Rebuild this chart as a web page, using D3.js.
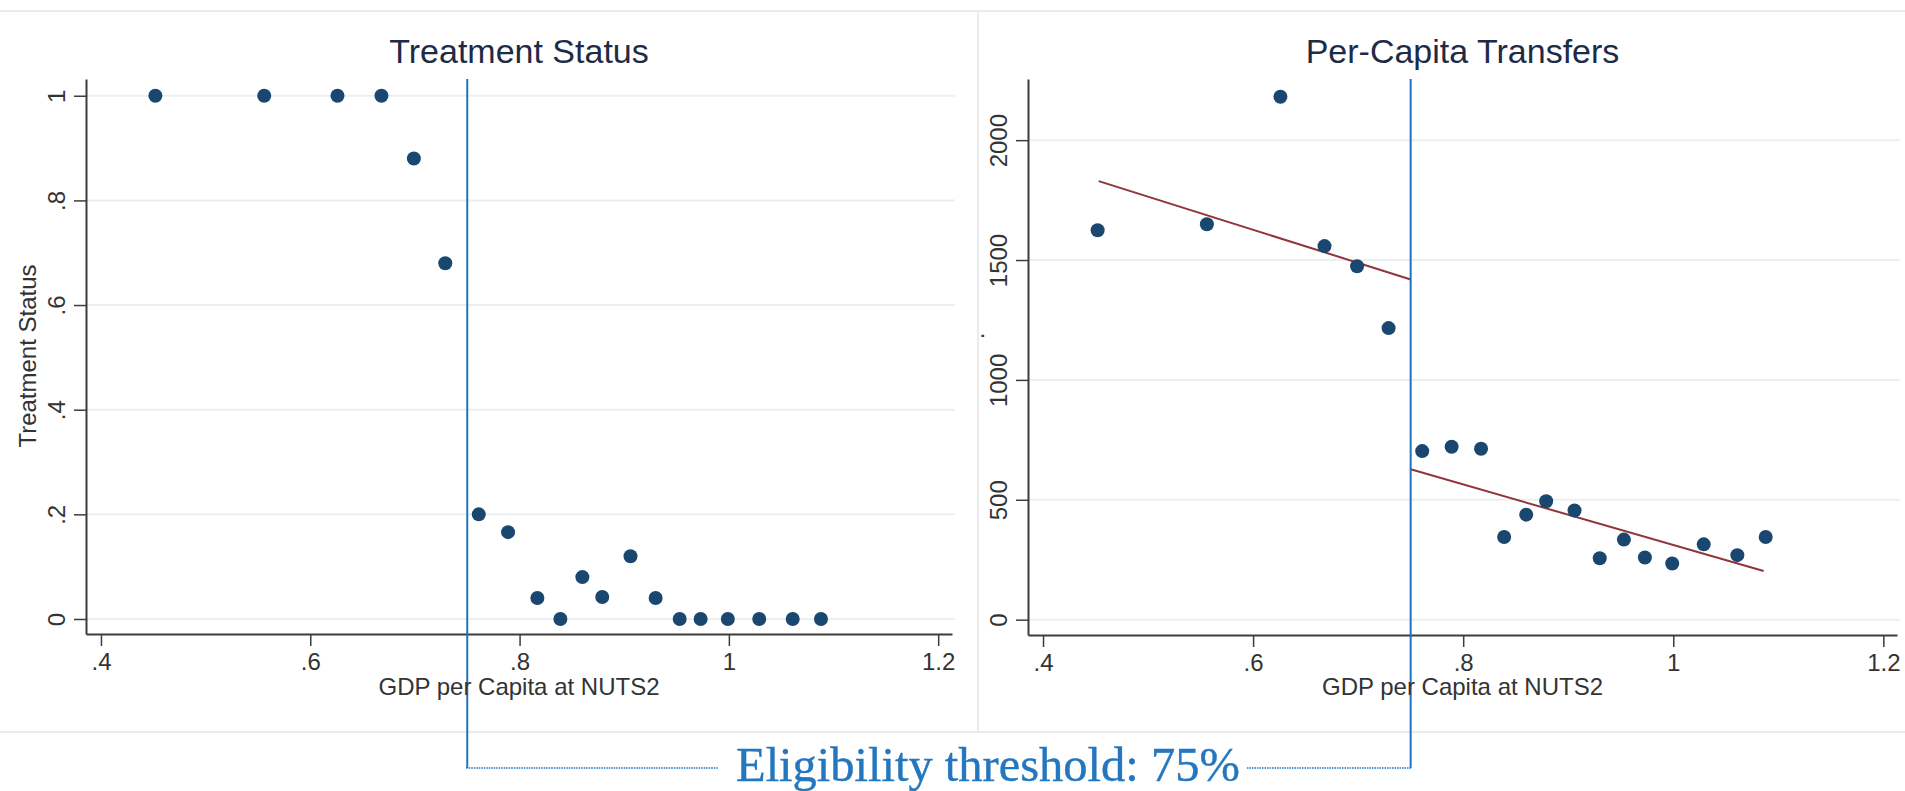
<!DOCTYPE html>
<html lang="en">
<head>
  <meta charset="UTF-8" />
  <title>Treatment Status and Per-Capita Transfers at the 75% threshold</title>
  <script src="https://cdn.jsdelivr.net/npm/d3@7"></script>
  <style>
    html, body {
      margin: 0;
      padding: 0;
      background: #ffffff;
      overflow: hidden;
    }
    svg { display: block; font-family: "Liberation Sans", Arial, sans-serif; }
    .note-text { font-family: "Liberation Serif", "Times New Roman", serif; }
  </style>
</head>
<body>
  <script>
    // ------ Data ------
    // GDP per capita bins (share of EU average), same bins for both panels
    const gdpBins = [0.452, 0.556, 0.626, 0.668, 0.699, 0.729, 0.761, 0.789, 0.817, 0.839,
                     0.860, 0.879, 0.906, 0.930, 0.953, 0.973, 0.999, 1.029, 1.061, 1.088];
    const treatStatus = [1, 1, 1, 1, 0.88, 0.68, 0.20, 0.166, 0.04, 0,
                         0.08, 0.042, 0.12, 0.04, 0, 0, 0, 0, 0, 0];
    const transfers = [1624, 1649, 2181, 1558, 1474, 1216, 703, 721, 713, 345,
                       438, 494, 455, 256, 334, 259, 234, 314, 269, 345];
    // linear fits either side of the cut-off (end points)
    const fitBelow = [[0.453, 1829], [0.75, 1419]];
    const fitAbove = [[0.75, 627], [1.086, 203]];
    const threshold = 0.75;

    const xTicks = [0.4, 0.6, 0.8, 1, 1.2];
    const xTickLabels = [".4", ".6", ".8", "1", "1.2"];
    const yTicksTreat = [0, 0.2, 0.4, 0.6, 0.8, 1];
    const yTickLabelsTreat = ["0", ".2", ".4", ".6", ".8", "1"];
    const yTicksTransfers = [0, 500, 1000, 1500, 2000];
    const yTickLabelsTransfers = ["0", "500", "1000", "1500", "2000"];

    // ------ Layout ------
    const width = 1905, height = 791;
    const dotColor = "#1a476f";
    const fitColor = "#90353b";
    const lineBlue = "#1f74bd";
    const gridColor = "#eaf0f1";
    const axisColor = "#3d3d3d";
    const connectorY = 768;

    const svg = d3.select("body").append("svg")
      .attr("width", width)
      .attr("height", height);

    svg.append("rect").attr("width", width).attr("height", height).attr("fill", "#fff");

    // faint graph-region frames (two graphs side by side)
    const frame = svg.append("g").attr("stroke", "#ebebeb").attr("stroke-width", 2);
    frame.append("line").attr("x1", 0).attr("x2", width).attr("y1", 11).attr("y2", 11);
    frame.append("line").attr("x1", 0).attr("x2", width).attr("y1", 732).attr("y2", 732);
    frame.append("line").attr("x1", 978).attr("x2", 978).attr("y1", 11).attr("y2", 732);

    function drawPanel(p) {
      const g = svg.append("g");
      const x = d3.scaleLinear().domain(p.xDomain).range([p.left, p.right]);
      const y = d3.scaleLinear().domain(p.yDomain).range([p.bottom, p.top]);

      // grid
      g.append("g").selectAll("line")
        .data(p.yTicks)
        .join("line")
        .attr("x1", p.left).attr("x2", p.right + 3)
        .attr("y1", d => y(d)).attr("y2", d => y(d))
        .attr("stroke", gridColor)
        .attr("stroke-width", 2);

      // y axis with rotated labels
      const yAxis = g.append("g")
        .attr("transform", `translate(${p.left},0)`)
        .call(d3.axisLeft(y)
          .tickValues(p.yTicks)
          .tickFormat((d, i) => p.yTickLabels[i])
          .tickSize(12)
          .tickSizeOuter(0));
      yAxis.select(".domain").attr("stroke", axisColor).attr("stroke-width", 2);
      yAxis.selectAll(".tick line").attr("stroke", axisColor).attr("stroke-width", 1.5);
      yAxis.selectAll(".tick text")
        .attr("x", 0).attr("y", -21).attr("dy", null)
        .attr("transform", "rotate(-90)")
        .attr("text-anchor", "middle")
        .attr("fill", "#333")
        .attr("font-size", 24);

      // x axis
      const xAxis = g.append("g")
        .attr("transform", `translate(0,${p.bottom})`)
        .call(d3.axisBottom(x)
          .tickValues(xTicks)
          .tickFormat((d, i) => xTickLabels[i])
          .tickSize(12)
          .tickPadding(7)
          .tickSizeOuter(0));
      xAxis.select(".domain").attr("stroke", axisColor).attr("stroke-width", 2);
      xAxis.selectAll(".tick line").attr("stroke", axisColor).attr("stroke-width", 1.5);
      xAxis.selectAll(".tick text")
        .attr("fill", "#333")
        .attr("font-size", 24);
      yAxis.attr("font-family", null);
      xAxis.attr("font-family", null);

      // fitted lines
      if (p.fits) {
        const line = d3.line().x(d => x(d[0])).y(d => y(d[1]));
        p.fits.forEach(f => {
          g.append("path")
            .attr("d", line(f))
            .attr("fill", "none")
            .attr("stroke", fitColor)
            .attr("stroke-width", 2);
        });
      }

      // scatter
      g.append("g").selectAll("circle")
        .data(p.yValues)
        .join("circle")
        .attr("cx", (d, i) => x(gdpBins[i]))
        .attr("cy", d => y(d))
        .attr("r", 7)
        .attr("fill", dotColor);

      // eligibility threshold line, running down to the annotation
      g.append("line")
        .attr("x1", x(threshold)).attr("x2", x(threshold))
        .attr("y1", p.top).attr("y2", connectorY)
        .attr("stroke", lineBlue)
        .attr("stroke-width", 2);

      // titles
      g.append("text")
        .attr("x", (p.left + p.right) / 2).attr("y", 63)
        .attr("text-anchor", "middle")
        .attr("font-size", 34)
        .attr("fill", "#1e2b47")
        .text(p.title);
      g.append("text")
        .attr("x", (p.left + p.right) / 2).attr("y", 695)
        .attr("text-anchor", "middle")
        .attr("font-size", 24)
        .attr("fill", "#333")
        .text("GDP per Capita at NUTS2");
      g.append("text")
        .attr("transform", `translate(${p.yTitleX},${p.yTitleY}) rotate(-90)`)
        .attr("text-anchor", "middle")
        .attr("font-size", 24)
        .attr("fill", "#333")
        .text(p.yTitle);

      return x;
    }

    const xLeft = drawPanel({
      left: 86, right: 952, top: 79, bottom: 634,
      xDomain: [0.3857, 1.2132], yDomain: [-0.0287, 1.032],
      yTicks: yTicksTreat, yTickLabels: yTickLabelsTreat,
      yValues: treatStatus,
      title: "Treatment Status",
      yTitle: "Treatment Status", yTitleX: 36, yTitleY: 356
    });

    const xRight = drawPanel({
      left: 1028, right: 1897, top: 79, bottom: 635,
      xDomain: [0.3857, 1.213], yDomain: [-64, 2255],
      yTicks: yTicksTransfers, yTickLabels: yTickLabelsTransfers,
      yValues: transfers,
      fits: [fitBelow, fitAbove],
      title: "Per-Capita Transfers",
      yTitle: ".", yTitleX: 984, yTitleY: 336
    });

    // ------ Annotation joining the two threshold lines ------
    const note = svg.append("g");
    note.append("line")
      .attr("x1", xLeft(threshold) - 1).attr("x2", 718)
      .attr("y1", connectorY).attr("y2", connectorY)
      .attr("stroke", lineBlue).attr("stroke-width", 1.5)
      .attr("stroke-dasharray", "1.5,1");
    note.append("line")
      .attr("x1", 1247).attr("x2", xRight(threshold) + 1)
      .attr("y1", connectorY).attr("y2", connectorY)
      .attr("stroke", lineBlue).attr("stroke-width", 1.5)
      .attr("stroke-dasharray", "1.5,1");
    note.append("text")
      .attr("class", "note-text")
      .attr("x", 736).attr("y", 781)
      .attr("font-size", 48.5)
      .attr("fill", "#2477bf")
      .attr("stroke", "#2477bf")
      .attr("stroke-width", 0.4)
      .text("Eligibility threshold: 75%");
  </script>
</body>
</html>
